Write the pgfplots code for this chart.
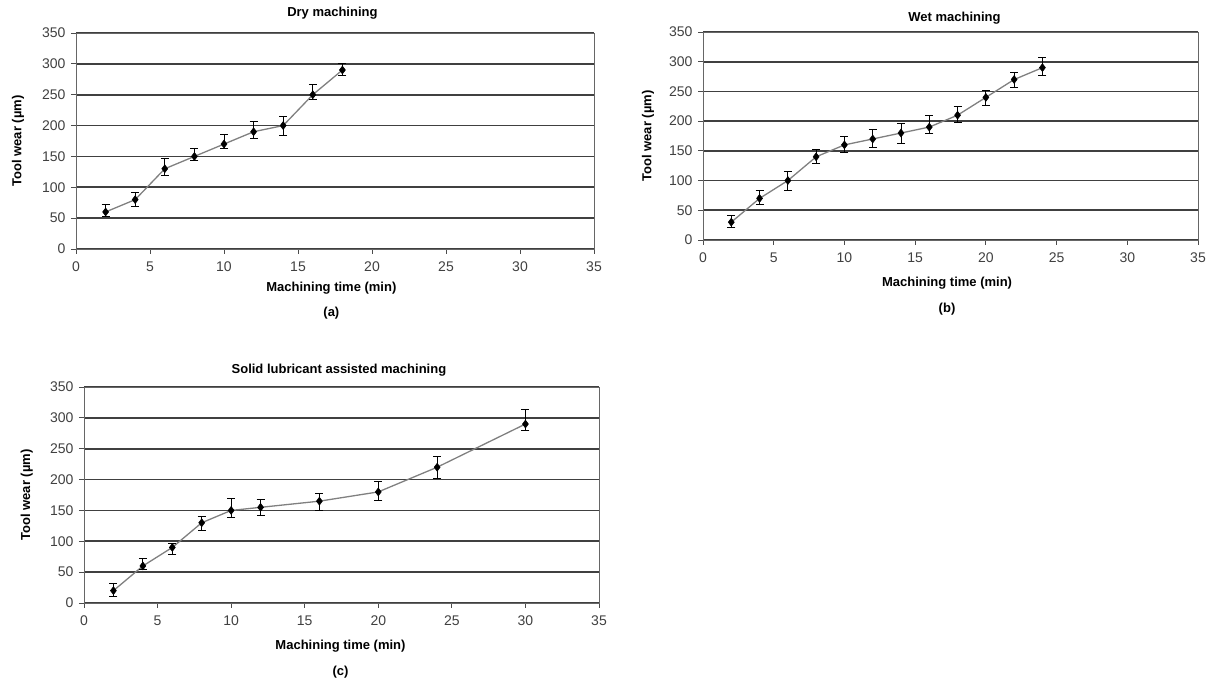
\documentclass[border=0pt]{standalone}
\usepackage{pgfplots}
\pgfplotsset{compat=1.18}
\usepackage{fontspec}
\setmainfont{Liberation Sans}
\pgfplotsset{
  panel/.style={
    scale only axis,
    xmin=0, xmax=35, ymin=0, ymax=350,
    xtick={0,5,...,35}, ytick={0,50,...,350},
    ymajorgrids,
    grid style={black!75, line width=1.6pt},
    axis line style={black!60, line width=0.9pt},
    tick align=outside, tick pos=left,
    major tick length=5pt,
    tick style={black!70, line width=0.9pt},
    /pgf/number format/assume math mode=true,
    ticklabel style={font=\fontsize{14}{14}\selectfont, text=black!75},
    xticklabel style={yshift=-4pt},
    yticklabel style={xshift=-2pt},
    title style={font=\bfseries\fontsize{13}{14}\selectfont, anchor=center},
    xlabel style={font=\bfseries\fontsize{13}{14}\selectfont, anchor=center, align=center},
    ylabel style={font=\bfseries\fontsize{13}{14}\selectfont, anchor=center},
    ylabel={Tool wear (µm)},
  },
  wear/.style={
    draw=black!50, line width=1.3pt,
    mark=diamond*, mark size=4pt,
    mark options={fill=black, draw=black, line width=0.5pt},
    error bars/.cd, y dir=both, y explicit,
    error bar style={black, line width=0.8pt},
    error mark options={rotate=90, black, mark size=4pt, line width=0.8pt},
  },
}
\begin{document}
\begin{tikzpicture}
\path[use as bounding box] (0pt,0pt) rectangle (1218pt,682pt);
% (a)  box 76..594 x 33..249
\begin{axis}[panel, width=518pt, height=216pt, at={(76pt,433pt)}, anchor=south west,
  title={Dry machining},
  title style={at={(axis description cs:0.495,1.062)}},
  xlabel={Machining time (min)\\[11pt](a)},
  xlabel style={at={(axis description cs:0.493,-0.24)}},
  ylabel style={at={(axis description cs:-0.112,0.5)}}]
\addplot[wear] coordinates {
(2,60) += (0,12) -= (0,7)
(4,80) += (0,12) -= (0,11)
(6,130) += (0,16) -= (0,11)
(8,150) += (0,13) -= (0,7)
(10,170) += (0,15) -= (0,7)
(12,190) += (0,16) -= (0,11)
(14,200) += (0,15) -= (0,16)
(16,250) += (0,16) -= (0,8)
(18,290) += (0,10) -= (0,9)
};
\end{axis}
% (b) box 703..1198 x 32..240
\begin{axis}[panel, width=495pt, height=208pt, at={(703pt,442pt)}, anchor=south west,
  title={Wet machining},
  title style={at={(axis description cs:0.508,1.036)}},
  xlabel={Machining time (min)\\[12pt](b)},
  xlabel style={at={(axis description cs:0.493,-0.27)}},
  ylabel style={at={(axis description cs:-0.111,0.5)}}]
\addplot[wear] coordinates {
(2,30) += (0,12) -= (0,9)
(4,70) += (0,13) -= (0,10)
(6,100) += (0,16) -= (0,16)
(8,140) += (0,12) -= (0,11)
(10,160) += (0,15) -= (0,13)
(12,170) += (0,16) -= (0,14)
(14,180) += (0,17) -= (0,18)
(16,190) += (0,20) -= (0,11)
(18,210) += (0,14) -= (0,12)
(20,240) += (0,12) -= (0,14)
(22,270) += (0,12) -= (0,14)
(24,290) += (0,18) -= (0,13)
};
\end{axis}
% (c) box 84..599 x 387..603
\begin{axis}[panel, width=515pt, height=216pt, at={(84pt,79pt)}, anchor=south west,
  title={Solid lubricant assisted machining},
  title style={at={(axis description cs:0.495,1.052)}},
  xlabel={Machining time (min)\\[12pt](c)},
  xlabel style={at={(axis description cs:0.498,-0.26)}},
  ylabel style={at={(axis description cs:-0.111,0.5)}}]
\addplot[wear] coordinates {
(2,20) += (0,11) -= (0,9)
(4,60) += (0,12) -= (0,6)
(6,90) += (0,7) -= (0,11)
(8,130) += (0,10) -= (0,12)
(10,150) += (0,20) -= (0,12)
(12,155) += (0,13) -= (0,13)
(16,165) += (0,13) -= (0,15)
(20,180) += (0,17) -= (0,14)
(24,220) += (0,18) -= (0,18)
(30,290) += (0,24) -= (0,10)
};
\end{axis}
\end{tikzpicture}
\end{document}
